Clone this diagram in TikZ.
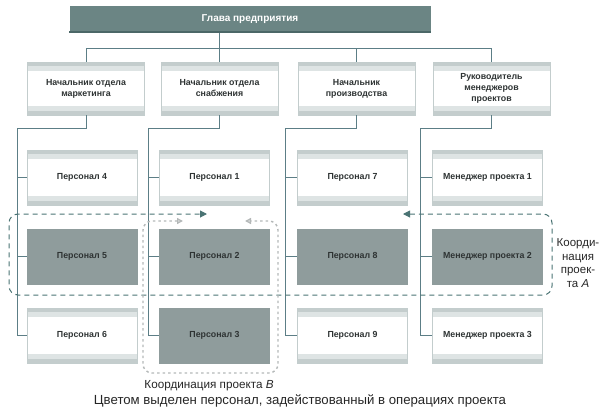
\documentclass[tikz,border=0pt]{standalone}
\usepackage{fontspec}
\setmainfont{Liberation Sans}
\usetikzlibrary{arrows.meta}

\definecolor{headfill}{HTML}{6B8584}
\definecolor{headedge}{HTML}{4B6767}
\definecolor{bandc}{HTML}{C4CDCD}
\definecolor{bandl}{HTML}{DEE4E4}
\definecolor{boxline}{HTML}{C3CDCD}
\definecolor{activefill}{HTML}{8F9C9C}
\definecolor{boxtext}{HTML}{2E3333}
\definecolor{railc}{HTML}{5C7E86}
\definecolor{coordAc}{HTML}{4A7373}
\definecolor{coordBc}{HTML}{B4B8B8}

\begin{document}
\begin{tikzpicture}[x=1pt,y=-1pt,
    headbox/.style={fill=headfill, text=white, inner sep=0pt,
        font=\bfseries\fontsize{10}{12}\selectfont,
        minimum width=361pt, minimum height=27pt},
    basebox/.style={line width=0.4pt, text=boxtext, align=center, inner sep=0pt,
        font=\bfseries\fontsize{8.8}{11}\selectfont},
    banded/.style={fill=white, draw=boxline,
        path picture={
            \fill[bandl] (path picture bounding box.north west) rectangle
                ([yshift=-9pt]path picture bounding box.north east);
            \fill[bandc] (path picture bounding box.north west) rectangle
                ([yshift=-4pt]path picture bounding box.north east);
            \fill[bandl] (path picture bounding box.south west) rectangle
                ([yshift=9pt]path picture bounding box.south east);
            \fill[bandc] (path picture bounding box.south west) rectangle
                ([yshift=4pt]path picture bounding box.south east);
        }},
    mgrbox/.style={basebox, banded, minimum width=117pt, minimum height=53pt},
    staffbox/.style={basebox, banded, minimum width=110pt, minimum height=55pt},
    activebox/.style={basebox, fill=activefill, draw=activefill,
        minimum width=110pt, minimum height=55pt},
    link/.style={draw=railc, line width=0.8pt},
    coordA/.style={draw=coordAc, line width=1pt, dash pattern=on 5pt off 4pt,
        rounded corners=9pt},
    coordB/.style={draw=coordBc, line width=1.4pt, dash pattern=on 2.5pt off 3pt,
        rounded corners=9pt}
]
\useasboundingbox (0,0) rectangle (606,416);

% head of the company
\node[headbox] (ceo) at (250,19.5) {Глава предприятия};
\draw[headedge, line width=2pt] ([yshift=1pt]ceo.south west) -- ([yshift=1pt]ceo.south east);

% managers
\node[mgrbox] (m1) at (86,88.5) {Начальник отдела\\маркетинга};
\node[mgrbox] (m2) at (219.5,88.5) {Начальник отдела\\снабжения};
\node[mgrbox] (m3) at (356.5,88.5) {Начальник\\производства};
\node[mgrbox] (m4) at (491.5,88.5) {Руководитель\\менеджеров\\проектов};

% staff
\node[staffbox] (p4) at (82,177.5) {Персонал 4};
\node[activebox] (p5) at (82,256.5) {Персонал 5};
\node[staffbox] (p6) at (82,335.5) {Персонал 6};

\node[staffbox] (p1) at (214.5,177.5) {Персонал 1};
\node[activebox] (p2) at (214.5,256.5) {Персонал 2};
\node[activebox] (p3) at (214.5,335.5) {Персонал 3};

\node[staffbox] (p7) at (352.5,177.5) {Персонал 7};
\node[activebox] (p8) at (352.5,256.5) {Персонал 8};
\node[staffbox] (p9) at (352.5,335.5) {Персонал 9};

\node[staffbox] (pm1) at (487.5,177.5) {Менеджер проекта 1};
\node[activebox] (pm2) at (487.5,256.5) {Менеджер проекта 2};
\node[staffbox] (pm3) at (487.5,335.5) {Менеджер проекта 3};

% top bus
\coordinate (bus) at (0,48);
\draw[link] (ceo.south -| m2.north) -- (m2.north);
\draw[link] (m1.north) |- (bus -| m4.north) -- (m4.north);
\draw[link] (m3.north) -- (bus -| m3.north);

% column rails
\coordinate (r1) at (17,128);
\coordinate (r2) at (148,128);
\coordinate (r3) at (285,128);
\coordinate (r4) at (420,128);
\draw[link] (m1.south) |- (r1) |- (p6.west);
\draw[link] (r1 |- p4.west) -- (p4.west);
\draw[link] (r1 |- p5.west) -- (p5.west);
\draw[link] (m2.south) |- (r2) |- (p3.west);
\draw[link] (r2 |- p1.west) -- (p1.west);
\draw[link] (r2 |- p2.west) -- (p2.west);
\draw[link] (m3.south) |- (r3) |- (p9.west);
\draw[link] (r3 |- p7.west) -- (p7.west);
\draw[link] (r3 |- p8.west) -- (p8.west);
\draw[link] (m4.south) |- (r4) |- (pm3.west);
\draw[link] (r4 |- pm1.west) -- (pm1.west);
\draw[link] (r4 |- pm2.west) -- (pm2.west);

% project A
\coordinate (a1) at (403,214);
\coordinate (a2) at (207,214);
\draw[coordA, {Triangle[length=7pt,width=7pt,fill=coordAc]}-{Triangle[length=7pt,width=7pt,fill=coordAc]}]
    (a1) -- (552,214) -- (552,295) -- (9,295) -- (9,214) -- (a2);
\node[font=\fontsize{11.5}{13.5}\selectfont, align=center, text=black!85] (labA) at (578,263)
    {Коорди-\\нация\\проек-\\та \textit{A}};

% project B
\coordinate (b1) at (183,221);
\coordinate (b2) at (245,221);
\draw[coordB, {Triangle[open,length=6pt,width=6pt]}-{Triangle[open,length=6pt,width=6pt]}]
    (b1) -- (143,221) -- (143,373) -- (278,373) -- (278,221) -- (b2);
\node[font=\fontsize{11.7}{14}\selectfont, text=black!85] (labB) at (209,386)
    {Координация проекта \textit{B}};

% caption
\node[font=\fontsize{13.2}{15}\selectfont, text=black!85] (caption) at (300,401)
    {Цветом выделен персонал, задействованный в операциях проекта};
\end{tikzpicture}
\end{document}
